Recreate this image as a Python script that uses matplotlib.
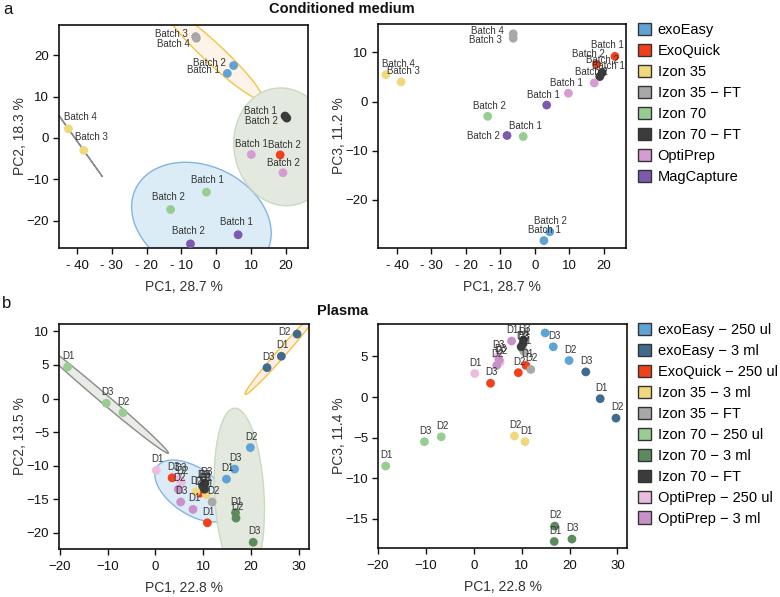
import numpy as np
import matplotlib
matplotlib.use("Agg")
import matplotlib.pyplot as plt
from matplotlib.patches import Patch

plt.rcParams['font.family'] = ['Liberation Sans', 'DejaVu Sans']

# ---------------- Conditioned medium (a) ----------------
cm_methods = ['exoEasy', 'ExoQuick', 'Izon 35', 'Izon 35 − FT', 'Izon 70',
              'Izon 70 − FT', 'OptiPrep', 'MagCapture']
cm_colors = ['#5ea3d6', '#f2401c', '#f1d87a', '#a8a8a8', '#97cd90',
             '#3b3b3b', '#d59bd2', '#7d5aaf']
cm_group = [0, 0, 1, 1, 2, 2, 3, 3, 4, 4, 5, 5, 6, 6, 7, 7]
cm_batch = ['Batch 1', 'Batch 2', 'Batch 1', 'Batch 2', 'Batch 3', 'Batch 4',
            'Batch 3', 'Batch 4', 'Batch 1', 'Batch 2', 'Batch 1', 'Batch 2',
            'Batch 1', 'Batch 2', 'Batch 1', 'Batch 2']
# PC1 / PC2 panel
cm_pc1_l = [3.2, 5.0, 28.5, 18.4, -38.1, -42.5, -5.9, -5.7, -2.8, -13.1,
            19.8, 20.3, 10.1, 19.2, 6.3, -7.4]
cm_pc2 = [15.6, 17.5, -6.5, -4.1, -3.0, 2.2, 24.5, 24.1, -13.1, -17.3,
          5.3, 4.8, -4.0, -8.4, -23.4, -25.6]
# PC1 / PC3 panel
cm_pc1_r = [2.6, 4.3, 23.2, 17.9, -38.8, -43.2, -6.3, -6.3, -3.4, -13.7,
            19.5, 18.8, 9.7, 17.2, 3.4, -8.1]
cm_pc3 = [-28.3, -26.5, 9.2, 7.6, 4.0, 5.5, 12.9, 13.8, -7.1, -3.0,
          5.9, 5.1, 1.7, 3.8, -0.7, -6.9]
# sample clusters that get a 95 % ellipse in the PC1/PC2 panel
cm_clusters = [[0, 1, 6, 7], [8, 9, 14, 15], [2, 3, 10, 11, 12, 13], [4, 5]]

# ---------------- Plasma (b) ----------------
pl_methods = ['exoEasy − 250 ul', 'exoEasy − 3 ml', 'ExoQuick − 250 ul',
              'Izon 35 − 3 ml', 'Izon 35 − FT', 'Izon 70 − 250 ul',
              'Izon 70 − 3 ml', 'Izon 70 − FT', 'OptiPrep − 250 ul',
              'OptiPrep − 3 ml']
pl_colors = ['#5ea3d6', '#3f6b8f', '#f2401c', '#f1d87a', '#a8a8a8',
             '#97cd90', '#5d8b5e', '#3b3b3b', '#ecbbe0', '#c991c9']
pl_group = [0, 0, 0, 1, 1, 1, 2, 2, 2, 3, 3, 4, 4, 4, 5, 5, 5,
            6, 6, 6, 7, 7, 7, 8, 8, 8, 9, 9, 9]
pl_donor = ['D1', 'D2', 'D3', 'D1', 'D2', 'D3', 'D1', 'D2', 'D3', 'D1', 'D2',
            'D1', 'D2', 'D3', 'D1', 'D2', 'D3', 'D1', 'D2', 'D3', 'D1', 'D2',
            'D3', 'D1', 'D2', 'D3', 'D1', 'D2', 'D3']
pl_pc1 = [14.9, 19.9, 16.6, 26.4, 29.7, 23.4, 10.9, 9.3, 3.5, 10.7, 8.5,
          10.5, 11.9, 10.1, -18.4, -6.8, -10.3, 16.8, 16.9, 20.5,
          10.3, 9.9, 10.4, 0.2, 5.5, 5.0, 7.9, 4.8, 5.3]
pl_pc2 = [-12.0, -7.3, -10.5, 6.3, 9.6, 4.6, -18.5, -14.1, -11.8, -14.3,
          -13.9, -13.4, -15.4, -13.0, 4.7, -2.1, -0.7, -17.0, -17.8, -21.4,
          -13.5, -13.0, -12.6, -10.7, -12.4, -12.0, -16.5, -13.5, -15.4]
pl_pc3 = [7.9, 4.5, 6.2, -0.2, -2.6, 3.1, 3.9, 3.0, 1.7, -5.5, -4.8,
          5.6, 3.4, 6.0, -8.5, -4.9, -5.5, -17.8, -15.9, -17.5,
          6.6, 6.2, 7.0, 2.9, 4.3, 5.0, 6.9, 3.9, 4.6]
pl_clusters = [[14, 15, 16], [3, 4, 5],
               list(range(6, 14)) + list(range(20, 29)),
               [0, 1, 2, 17, 18, 19]]

ell_face = ['#fdf3e8', '#dbecf6', '#e3e9de', '#e9e9e9']
ell_edge = ['#f3c343', '#86b3e6', '#c8dbc1', '#8c8c8c']
pl_ell_face = ['#e8ebe6', '#fbeee6', '#dbecf6', '#e3e9de']
pl_ell_edge = ['#8a8a8a', '#f3c343', '#86b3e6', '#c8dbc1']


def ellipse_xy(x, y, k=np.sqrt(5.991)):
    pts = np.column_stack([x, y])
    c = pts.mean(axis=0)
    vals, vecs = np.linalg.eigh(np.cov(pts.T))
    vals = np.clip(vals, 0, None)
    t = np.linspace(0, 2 * np.pi, 241)
    circ = np.vstack([np.cos(t), np.sin(t)])
    e = vecs @ (np.sqrt(vals)[:, None] * circ) * k + c[:, None]
    return e[0], e[1]


def draw_ellipses(ax, x, y, clusters, faces, edges):
    x = np.asarray(x)
    y = np.asarray(y)
    for idx, fc, ec in zip(clusters, faces, edges):
        ex, ey = ellipse_xy(x[idx], y[idx])
        ax.fill(ex, ey, facecolor=fc, edgecolor=ec, lw=1.0, zorder=1)


def draw_points(ax, x, y, group, colors, labels, offsets=None):
    cols = [colors[g] for g in group]
    ax.scatter(x, y, s=40, c=cols, edgecolors='none', zorder=3)
    for i, (xi, yi, lab) in enumerate(zip(x, y, labels)):
        dx, dy = (1, -11) if offsets is None or i not in offsets else offsets[i]
        ax.annotate(lab, (xi, yi), xytext=(dx, -dy), textcoords='offset pixels',
                    ha='center', va='center', fontsize=7, color='#333333',
                    zorder=4, clip_on=True)


def style(ax, xlabel, ylabel):
    for sp in ax.spines.values():
        sp.set_linewidth(1.2)
        sp.set_color('#111111')
    ax.tick_params(direction='out', length=4, width=1, labelsize=9.5,
                   colors='#111111', pad=3)
    ax.tick_params(axis='x', pad=4.5)
    ax.set_xlabel(xlabel, fontsize=10, color='#333333', labelpad=6)
    ax.set_ylabel(ylabel, fontsize=10, color='#333333', labelpad=0)


fig = plt.figure(figsize=(7.8, 5.97), dpi=100)
W, H = 780.0, 597.0


def add_ax(x0, y0, x1, y1):
    return fig.add_axes([x0 / W, 1 - y1 / H, (x1 - x0) / W, (y1 - y0) / H])


ax_al = add_ax(59, 25, 308, 248)
ax_ar = add_ax(378, 24, 626, 248)
ax_bl = add_ax(59, 324, 309, 549)
ax_br = add_ax(378, 324, 627, 548)

# label offsets in pixels (dx, dy downwards)
off_al = {0: (-24, -3), 1: (-24, -3), 2: (-11, -7), 3: (4, -10),
          4: (8, -13), 5: (12, -12), 6: (-24, -3), 7: (-23, 6),
          8: (1, -12), 9: (-2, -13), 10: (-25, -5), 11: (-25, 3),
          12: (0, -10), 13: (0, -10), 14: (-2, -13), 15: (-2, -13)}
off_ar = {0: (1, -11), 1: (1, -11), 2: (-8, -11), 3: (-8, -10),
          4: (2, -11), 5: (13, -11), 6: (-28, 2), 7: (-26, -3),
          8: (2, -10), 9: (2, -10), 10: (6, -7), 11: (3, -17),
          12: (-2, -10), 13: (-3, -11), 14: (-3, -10), 15: (-24, 0)}
off_bl = {4: (-13, -2)}

# a: PC1 vs PC2
draw_ellipses(ax_al, cm_pc1_l, cm_pc2, cm_clusters, ell_face, ell_edge)
draw_points(ax_al, cm_pc1_l, cm_pc2, cm_group, cm_colors, cm_batch, off_al)
ax_al.set_xlim(-45.2, 26.4)
ax_al.set_ylim(-26.6, 27.3)
ax_al.set_xticks([-40, -30, -20, -10, 0, 10, 20])
ax_al.set_xticklabels(['- 40', '- 30', '- 20', '- 10', '0', '10', '20'])
ax_al.set_yticks([-20, -10, 0, 10, 20])
style(ax_al, 'PC1, 28.7 %', 'PC2, 18.3 %')

# a: PC1 vs PC3
draw_points(ax_ar, cm_pc1_r, cm_pc3, cm_group, cm_colors, cm_batch, off_ar)
ax_ar.set_xlim(-45.5, 26.4)
ax_ar.set_ylim(-29.8, 15.8)
ax_ar.set_xticks([-40, -30, -20, -10, 0, 10, 20])
ax_ar.set_xticklabels(['- 40', '- 30', '- 20', '- 10', '0', '10', '20'])
ax_ar.set_yticks([-20, -10, 0, 10])
style(ax_ar, 'PC1, 28.7 %', 'PC3, 11.2 %')

# b: PC1 vs PC2
draw_ellipses(ax_bl, pl_pc1, pl_pc2, pl_clusters, pl_ell_face, pl_ell_edge)
draw_points(ax_bl, pl_pc1, pl_pc2, pl_group, pl_colors, pl_donor, off_bl)
ax_bl.set_xlim(-20.2, 32.2)
ax_bl.set_ylim(-22.4, 11.1)
ax_bl.set_xticks([-20, -10, 0, 10, 20, 30])
ax_bl.set_yticks([-20, -15, -10, -5, 0, 5, 10])
style(ax_bl, 'PC1, 22.8 %', 'PC2, 13.5 %')

# b: PC1 vs PC3
draw_points(ax_br, pl_pc1, pl_pc3, pl_group, pl_colors, pl_donor)
ax_br.set_xlim(-20.0, 32.0)
ax_br.set_ylim(-18.6, 9.0)
ax_br.set_xticks([-20, -10, 0, 10, 20, 30])
ax_br.set_yticks([-15, -10, -5, 0, 5])
style(ax_br, 'PC1, 22.8 %', 'PC3, 11.4 %')

# legends
for methods, colors, top in [(cm_methods, cm_colors, 23), (pl_methods, pl_colors, 323)]:
    handles = [Patch(facecolor=c, edgecolor='#333333', lw=1.0) for c in colors]
    fig.legend(handles, methods, loc='upper left',
               bbox_to_anchor=(638 / W, 1 - top / H), frameon=False,
               fontsize=10.5, handlelength=0.9, handleheight=0.9,
               handletextpad=0.45, labelspacing=0.47, borderpad=0,
               borderaxespad=0)

fig.text(342 / W, 1 - 9 / H, 'Conditioned medium', ha='center', va='center',
         fontsize=10.5, fontweight='bold', color='#111111')
fig.text(343 / W, 1 - 311 / H, 'Plasma', ha='center', va='center',
         fontsize=10.5, fontweight='bold', color='#111111')
fig.text(3 / W, 1 - 9 / H, 'a', ha='left', va='center', fontsize=12, color='#111111')
fig.text(2 / W, 1 - 304 / H, 'b', ha='left', va='center', fontsize=12, color='#111111')

fig.savefig('out.png', dpi=100)
